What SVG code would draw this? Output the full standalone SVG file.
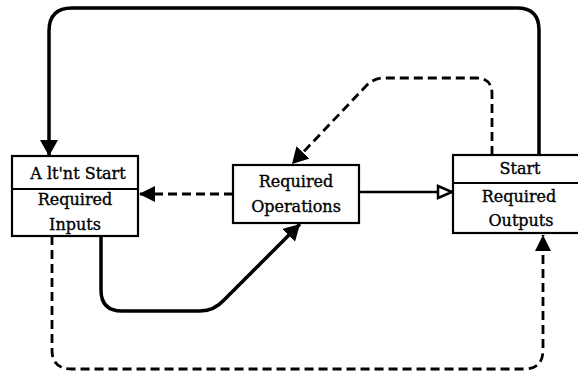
<svg xmlns="http://www.w3.org/2000/svg" width="578" height="373" viewBox="0 0 578 373">
<style>
.box{fill:#fff;stroke:#000;stroke-width:2.2}
.div{stroke:#000;stroke-width:2}
.t{font-family:"DejaVu Serif","Liberation Serif",serif;font-size:16px;fill:#000;stroke:#000;stroke-width:0.35;text-anchor:middle}
.solid{fill:none;stroke:#000;stroke-width:3.5;stroke-linejoin:round;stroke-linecap:butt}
.dash{fill:none;stroke:#000;stroke-width:2.8;stroke-dasharray:9,5}
.thin{fill:none;stroke:#000;stroke-width:2.5}
</style>
<defs>
<marker id="ah" viewBox="0 0 16 18" refX="16" refY="9" markerWidth="16" markerHeight="18" markerUnits="userSpaceOnUse" orient="auto">
<path d="M0,0 L16,9 L0,18 z" fill="#000"/>
</marker>
<marker id="ahs" viewBox="0 0 16 16" refX="16" refY="8" markerWidth="16" markerHeight="16" markerUnits="userSpaceOnUse" orient="auto">
<path d="M0,0 L16,8 L0,16 z" fill="#000"/>
</marker>
<marker id="open" viewBox="-2 -2 19 16" refX="15" refY="6" markerWidth="19" markerHeight="16" markerUnits="userSpaceOnUse" orient="auto">
<path d="M0,0 L14,6 L0,12 z" fill="#fff" stroke="#000" stroke-width="2.5"/>
</marker>
</defs>
<g id="connectors">
<path class="solid" d="M539,155 V30 Q539,8 517,8 H72 Q49,8 49,31 V156" marker-end="url(#ah)"/>
<path class="dash" d="M492,155 V94 Q492,78 476,78 H384 Q374,78 366,86 L292,164" marker-end="url(#ah)"/>
<path class="solid" d="M101,236 V290 Q101,311 122,311 H200 Q214,311 224,300 L300,224" marker-end="url(#ah)"/>
<path class="dash" d="M52,236 V350 Q52,369 72,369 H524 Q543,369 543,350 V235" marker-end="url(#ahs)"/>
<path class="dash" d="M233,194 H139" marker-end="url(#ahs)"/>
<path class="thin" d="M359,192 H453" marker-end="url(#open)"/>
</g>
<g id="alt-start">
<rect class="box" x="12" y="156" width="126" height="80"/>
<line class="div" x1="12" y1="189" x2="138" y2="189"/>
<text class="t" x="78" y="179">A lt'nt Start</text>
<text class="t" x="75" y="205">Required</text>
<text class="t" x="75" y="230">Inputs</text>
</g>
<g id="operations">
<rect class="box" x="233" y="165" width="126" height="58"/>
<text class="t" x="296" y="187">Required</text>
<text class="t" x="296" y="212">Operations</text>
</g>
<g id="start">
<rect class="box" x="453" y="155" width="140" height="78"/>
<line class="div" x1="453" y1="183" x2="593" y2="183"/>
<text class="t" x="520" y="174">Start</text>
<text class="t" x="519" y="202">Required</text>
<text class="t" x="521" y="226">Outputs</text>
</g>
</svg>
